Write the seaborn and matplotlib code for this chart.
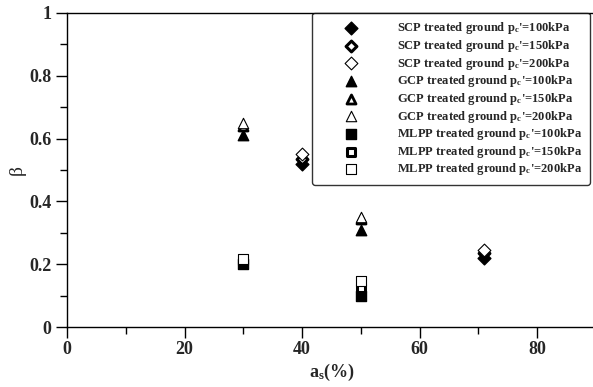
import matplotlib
matplotlib.use("Agg")
import matplotlib.pyplot as plt
import seaborn as sns
import pandas as pd
from matplotlib.ticker import MultipleLocator

# ---- data ----
scp_x = [40, 71]
scp_100 = [0.52, 0.22]
scp_150 = [0.535, 0.235]
scp_200 = [0.55, 0.245]

gcp_x = [30, 50]
gcp_100 = [0.61, 0.31]
gcp_150 = [0.64, 0.345]
gcp_200 = [0.65, 0.35]

mlpp_x = [30, 50]
mlpp_100 = [0.20, 0.10]
mlpp_150 = [0.21, 0.125]
mlpp_200 = [0.215, 0.145]

x_ticks = [0, 20, 40, 60, 80]
y_ticks = [0, 0.2, 0.4, 0.6, 0.8, 1]
y_tick_labels = ["0", "0.2", "0.4", "0.6", "0.8", "1"]

sns.set_style("white")
plt.rcParams["font.family"] = ["Liberation Serif", "DejaVu Serif"]
plt.rcParams["font.weight"] = "bold"
plt.rcParams["mathtext.fontset"] = "custom"
plt.rcParams["mathtext.rm"] = "Liberation Serif:bold"
plt.rcParams["mathtext.it"] = "Liberation Serif:bold"
plt.rcParams["mathtext.bf"] = "Liberation Serif:bold"

fig = plt.figure(figsize=(5.93, 3.87), dpi=100)
ax = fig.add_axes([67 / 593, 60 / 387, 529 / 593, 314 / 387])

series = [
    ("SCP", "100", scp_x, scp_100, "D", "black", 1.0, 6.5),
    ("SCP", "150", scp_x, scp_150, "D", "white", 2.2, 5.5),
    ("SCP", "200", scp_x, scp_200, "D", "white", 0.8, 6.5),
    ("GCP", "100", gcp_x, gcp_100, "^", "black", 1.0, 7.5),
    ("GCP", "150", gcp_x, gcp_150, "^", "white", 2.0, 6.5),
    ("GCP", "200", gcp_x, gcp_200, "^", "white", 0.8, 7.5),
    ("MLPP", "100", mlpp_x, mlpp_100, "s", "black", 1.0, 6.5),
    ("MLPP", "150", mlpp_x, mlpp_150, "s", "white", 2.2, 5.5),
    ("MLPP", "200", mlpp_x, mlpp_200, "s", "white", 0.8, 6.5),
]

for name, p, xs, ys, mk, fc, lw, ms in series:
    df = pd.DataFrame({"x": xs, "y": ys})
    label = f"{name} treated ground p$_\\mathrm{{c}}$'={p}kPa"
    sns.scatterplot(data=df, x="x", y="y", ax=ax, marker=mk, color=fc,
                    edgecolor="black", linewidth=lw, s=ms ** 2, label=label,
                    zorder=3)

ax.set_xlim(0, 90)
ax.set_ylim(0, 1)
ax.set_xticks(x_ticks)
ax.set_xticklabels([str(t) for t in x_ticks])
ax.set_yticks(y_ticks)
ax.set_yticklabels(y_tick_labels)
ax.xaxis.set_minor_locator(MultipleLocator(10))
ax.yaxis.set_minor_locator(MultipleLocator(0.1))
ax.tick_params(axis="both", which="major", direction="out", length=8, width=1,
               labelsize=13, bottom=True, left=True, color="black", pad=3)
ax.tick_params(axis="x", which="major", pad=2)
ax.tick_params(axis="both", which="minor", direction="out", length=5, width=1,
               bottom=True, left=True, color="black")
for lab in ax.get_xticklabels() + ax.get_yticklabels():
    lab.set_fontweight("bold")

for s in ["left", "bottom", "top"]:
    ax.spines[s].set_visible(True)
    ax.spines[s].set_color("black")
    ax.spines[s].set_linewidth(1.0)
ax.spines["right"].set_visible(False)

ax.set_xlabel("a$_\\mathrm{s}$(%)", fontsize=13, fontweight="bold", labelpad=3)
ax.set_ylabel("β", fontsize=14, fontweight="normal", labelpad=3)

leg = ax.legend(loc="upper left", bbox_to_anchor=((312 - 67) / 529, 1.0),
                borderaxespad=0, frameon=True, fancybox=True,
                prop={"family": "Liberation Serif", "weight": "bold", "size": 9},
                labelspacing=0.13, handletextpad=1.2, borderpad=0.6,
                markerscale=1.0, handlelength=5.0)
leg.get_frame().set_edgecolor("black")
leg.get_frame().set_linewidth(1.0)

fig.savefig("out.png", dpi=100)
